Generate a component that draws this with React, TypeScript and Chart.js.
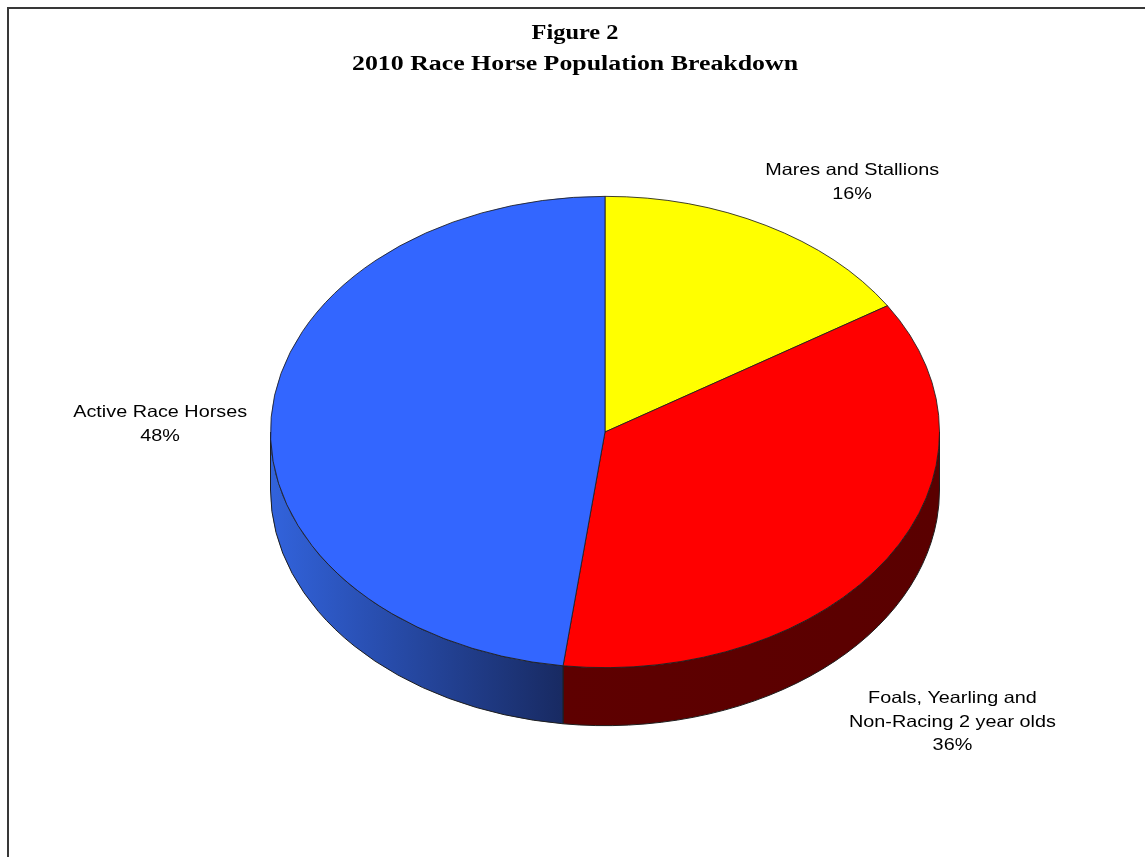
import { useEffect, useRef } from "react";
import { Chart, registerables } from "chart.js";

Chart.register(...registerables);

// ---------- data ----------
const titleLines = ["Figure 2", "2010 Race Horse Population Breakdown"];
const categories = [
  "Mares and Stallions",
  "Foals, Yearling and Non-Racing 2 year olds",
  "Active Race Horses",
];
const categoryLabelLines = [
  ["Mares and Stallions"],
  ["Foals, Yearling and", "Non-Racing 2 year olds"],
  ["Active Race Horses"],
];
const shares = [16, 36, 48];
const topColors = ["#ffff00", "#ff0000", "#3366ff"];
const sideLightColors = ["#8a8a00", "#5e0000", "#3263dc"];
const sideDarkColors = ["#6a6a00", "#5a0000", "#182a62"];

// ---------- styling / layout ----------
const W = 1145;
const H = 857;
const TILT = 0.7045; // vertical squash of the pie top
const DEPTH = 58; // thickness of the 3D side
const LABEL_STRETCH = 1.2;
const TITLE_WIDTHS = [87, 446];
const TITLE_BASELINES = [39, 70];
const TITLE_CENTER_X = 575;
const LABEL_OFFSETS = [
  [86, -50],
  [65, 145],
  [-111, 0],
];
const LINE_H = 23.5;

function visibleSegments(a1: number, a2: number): [number, number][] {
  const out: [number, number][] = [];
  for (let k = -2; k <= 2; k++) {
    const lo = Math.max(a1, 2 * Math.PI * k);
    const hi = Math.min(a2, 2 * Math.PI * k + Math.PI);
    if (hi > lo) out.push([lo, hi]);
  }
  return out;
}

const pie3d = {
  id: "pie3d",
  beforeDatasetsDraw(chart: any) {
    const ctx: CanvasRenderingContext2D = chart.ctx;
    const meta = chart.getDatasetMeta(0);
    const arcs = meta.data;
    if (!arcs.length) return;
    const p0 = arcs[0].getProps(["x", "y", "outerRadius"], true);
    const cx = p0.x;
    const cy = p0.y;
    const rx = p0.outerRadius;
    const ry = rx * TILT;

    arcs.forEach((arc: any, i: number) => {
      const { startAngle, endAngle } = arc.getProps(["startAngle", "endAngle"], true);
      visibleSegments(startAngle, endAngle).forEach(([s, e]) => {
        const xl = cx + rx * Math.cos(e);
        const xr = cx + rx * Math.cos(s);
        const g = ctx.createLinearGradient(Math.min(xl, xr), 0, Math.max(xl, xr) + 0.01, 0);
        g.addColorStop(0, sideLightColors[i]);
        g.addColorStop(1, sideDarkColors[i]);
        ctx.save();
        ctx.beginPath();
        ctx.ellipse(cx, cy, rx, ry, 0, s, e, false);
        ctx.lineTo(cx + rx * Math.cos(e), cy + ry * Math.sin(e) + DEPTH);
        ctx.ellipse(cx, cy + DEPTH, rx, ry, 0, e, s, true);
        ctx.closePath();
        ctx.fillStyle = g;
        ctx.fill();
        ctx.lineWidth = 1;
        ctx.strokeStyle = "#1e1e1e";
        ctx.stroke();
        ctx.restore();
      });
    });

    ctx.save();
    ctx.translate(cx, cy);
    ctx.scale(1, TILT);
    ctx.translate(-cx, -cy);
  },
  afterDatasetsDraw(chart: any) {
    const ctx: CanvasRenderingContext2D = chart.ctx;
    ctx.restore();

    const meta = chart.getDatasetMeta(0);
    const arcs = meta.data;
    if (!arcs.length) return;
    const p0 = arcs[0].getProps(["x", "y", "outerRadius"], true);
    const cx = p0.x;
    const cy = p0.y;
    const rx = p0.outerRadius;
    const ry = rx * TILT;
    const values: number[] = chart.data.datasets[0].data;
    const total = values.reduce((a, b) => a + b, 0);

    ctx.save();
    ctx.fillStyle = "#000";
    ctx.textAlign = "center";
    ctx.textBaseline = "alphabetic";
    ctx.font = "16.5px 'Liberation Sans', Arial, sans-serif";
    arcs.forEach((arc: any, i: number) => {
      const { startAngle, endAngle } = arc.getProps(["startAngle", "endAngle"], true);
      const mid = (startAngle + endAngle) / 2;
      const ex = cx + rx * Math.cos(mid);
      const ey = cy + ry * Math.sin(mid);
      const lx = ex + LABEL_OFFSETS[i][0];
      const ly = ey + LABEL_OFFSETS[i][1];
      const lines = [...categoryLabelLines[i], `${Math.round((values[i] / total) * 100)}%`];
      lines.forEach((t, j) => {
        ctx.save();
        ctx.translate(lx, ly + j * LINE_H);
        ctx.scale(LABEL_STRETCH, 1);
        ctx.fillText(t, 0, 0);
        ctx.restore();
      });
    });

    ctx.font = "bold 20.5px 'Liberation Serif', 'Times New Roman', serif";
    titleLines.forEach((t, j) => {
      const w = ctx.measureText(t).width;
      ctx.save();
      ctx.translate(TITLE_CENTER_X, TITLE_BASELINES[j]);
      ctx.scale(TITLE_WIDTHS[j] / w, 1);
      ctx.fillText(t, 0, 0);
      ctx.restore();
    });
    ctx.restore();
  },
};

export default function App() {
  const ref = useRef<HTMLCanvasElement | null>(null);
  useEffect(() => {
    if (!ref.current) return;
    const chart = new Chart(ref.current, {
      type: "pie",
      data: {
        labels: categories,
        datasets: [
          {
            data: shares,
            backgroundColor: topColors,
            borderColor: "#1e1e1e",
            borderWidth: 1,
            hoverOffset: 0,
            clip: false,
          } as any,
        ],
      },
      options: {
        responsive: false,
        animation: false,
        events: [],
        layout: { padding: { left: 270, right: 205, top: 97, bottom: 90 } },
        plugins: {
          legend: { display: false },
          tooltip: { enabled: false },
          title: { display: false },
        },
      } as any,
      plugins: [pie3d],
    });
    return () => chart.destroy();
  }, []);

  return (
    <div
      style={{
        position: "fixed",
        left: 0,
        top: 0,
        width: W,
        height: H,
        overflow: "hidden",
        background: "#fff",
      }}
    >
      <div
        style={{
          position: "absolute",
          left: 7,
          top: 7,
          width: 2000,
          height: 2000,
          border: "2px solid #383838",
        }}
      />
      <canvas
        ref={ref}
        width={W}
        height={H}
        style={{ position: "absolute", left: 0, top: 0, width: W, height: H, display: "block" }}
      />
    </div>
  );
}
